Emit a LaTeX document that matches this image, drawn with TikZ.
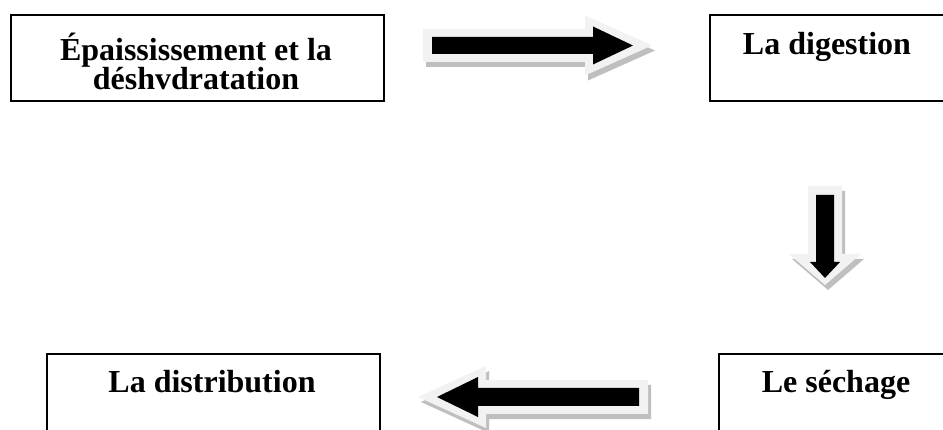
\documentclass[tikz,border=0pt]{standalone}
\usepackage{fontspec}
\setmainfont{Liberation Serif}
\definecolor{arrlight}{HTML}{F2F2F2}
\definecolor{arrshadow}{HTML}{BFBFBF}
\tikzset{
  box/.style={draw=black, line width=2pt, rectangle, inner sep=0pt, anchor=north west},
  lbl/.style={anchor=base, inner sep=0pt, font=\bfseries\fontsize{32}{27}\selectfont},
}
% #1 x, #2 y, #3 angle, #4 shaft, #5 head, #6 shaft half, #7 head half, #8 head pad, #9 tip pad
\newcommand{\blockarrowshape}[9]{%
  \begin{scope}[shift={(#1+3,#2+5)},rotate=#3]
    \fill[arrshadow] (-9,-#6-8) -- (#4-8,-#6-8) -- (#4-8,-#7-#8) -- (#4+#5+#9,0)
      -- (#4-8,#7+#8) -- (#4-8,#6+8) -- (-9,#6+8) -- cycle;
  \end{scope}
  \begin{scope}[shift={(#1,#2)},rotate=#3]
    \fill[arrlight] (-9,-#6-8) -- (#4-8,-#6-8) -- (#4-8,-#7-#8) -- (#4+#5+#9,0)
      -- (#4-8,#7+#8) -- (#4-8,#6+8) -- (-9,#6+8) -- cycle;
    \fill[black] (0,-#6) -- (#4,-#6) -- (#4,-#7) -- (#4+#5,0)
      -- (#4,#7) -- (#4,#6) -- (0,#6) -- cycle;
  \end{scope}}
\begin{document}
\begin{tikzpicture}[x=1pt,y=-1pt]
\useasboundingbox (0,0) rectangle (943,430);
\fill[white] (0,0) rectangle (943,430);
% boxes
\node[box, minimum width=373pt, minimum height=86pt] (b1) at (10,14) {};
\node[box, minimum width=237pt, minimum height=86pt] (b2) at (709,14) {};
\node[box, minimum width=237pt, minimum height=97pt] (b3) at (718,353) {};
\node[box, minimum width=333pt, minimum height=97pt] (b4) at (46,353) {};
% texts
\node[lbl] (t1a) at (196,61) {Épaississement et la};
\node[lbl] (t1b) at (196,90) {déshvdratation};
\node[lbl] (t2) at (827,54.5) {La digestion};
\node[lbl] (t3) at (836,393) {Le séchage};
\node[lbl] (t4) at (212,393) {La distribution};
% block arrows
\blockarrowshape{432}{45.5}{0}{161}{40}{8.5}{19}{11}{19}
\blockarrowshape{825}{195}{-90}{67}{16}{9}{15}{21}{7}
\blockarrowshape{639}{397}{180}{161}{41}{9}{20}{11}{19}
\end{tikzpicture}
\end{document}
